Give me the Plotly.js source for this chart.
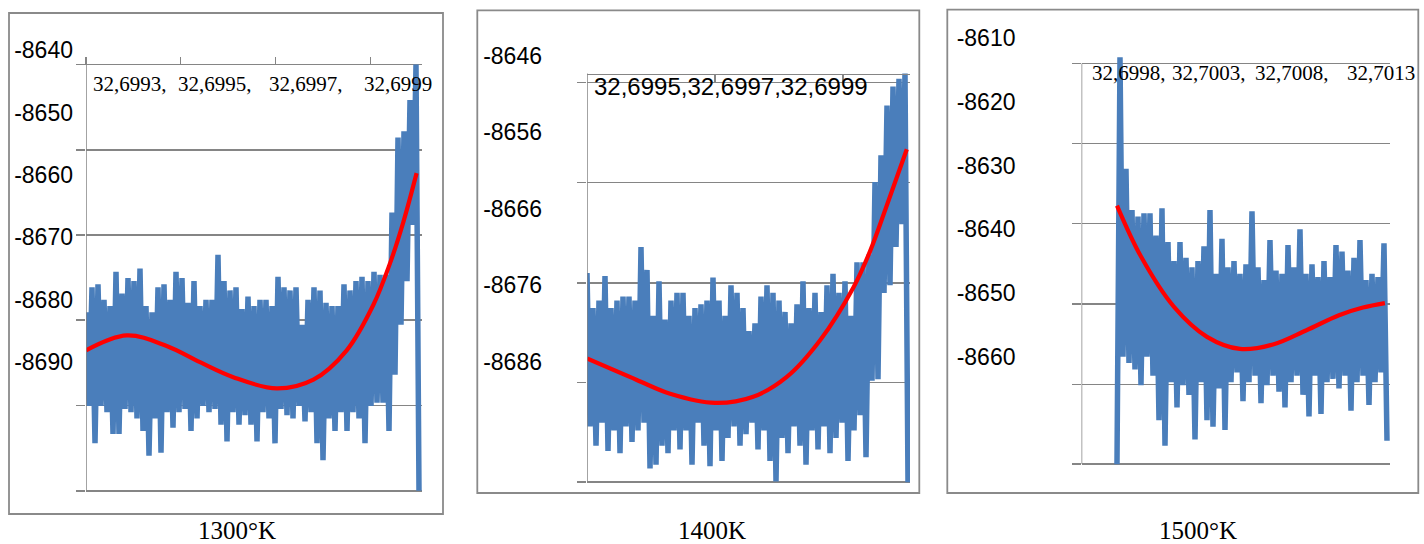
<!DOCTYPE html>
<html>
<head>
<meta charset="utf-8">
<script src="https://cdn.plot.ly/plotly-3.0.1.min.js"></script>
<style>html,body{margin:0;padding:0;background:#fff;}#chart{width:1424px;height:544px;}</style>
</head>
<body>
<div id="chart"></div>
<script>
// ---------- DATA ----------
const titles = ['1300°K', '1400K', '1500°K'];

// y tick labels
const yTickVals1 = [-8640, -8650, -8660, -8670, -8680, -8690];
const yTickText1 = ['-8640', '-8650', '-8660', '-8670', '-8680', '-8690'];
const yTickVals2 = [-8646, -8656, -8666, -8676, -8686];
const yTickText2 = ['-8646', '-8656', '-8666', '-8676', '-8686'];
const yTickVals3 = [-8610, -8620, -8630, -8640, -8650, -8660];
const yTickText3 = ['-8610', '-8620', '-8630', '-8640', '-8650', '-8660'];

// x labels (as printed at the top of each panel)
const xLabels1 = ['32,6993', '32,6995', '32,6997', '32,6999'];
const xLabels2 = ['32,6995', '32,6997', '32,6999'];
const xLabels3 = ['32,6998', '32,7003', '32,7008', '32,7013'];

// blue series (energy, one value per sample)
const energy1300 = [
 -8682,-8697,-8678,-8703,-8677.5,-8697,-8680,-8698,-8681,-8701.5,
 -8675.5,-8701.5,-8679,-8697.5,-8676.5,-8698,-8677,-8699,-8675,-8701,
 -8681,-8705,-8682,-8699,-8678,-8704.5,-8677.5,-8698,-8680,-8700.5,
 -8675.5,-8698,-8676.5,-8697.5,-8680.5,-8701,-8677,-8699,-8681,-8697,
 -8680,-8698,-8680,-8697.5,-8672.8,-8700,-8677,-8702.7,-8678.5,-8698,
 -8678,-8700,-8681.5,-8698.5,-8679.5,-8700,-8681,-8702.7,-8680,-8698,
 -8680,-8699,-8681,-8703,-8676.3,-8697.5,-8678,-8698.5,-8678.5,-8699,
 -8678,-8697,-8684,-8699.5,-8680,-8698,-8678,-8703,-8678.5,-8705.7,
 -8680.5,-8699,-8681,-8701,-8681,-8698,-8677.5,-8701,-8678.5,-8698,
 -8677,-8699,-8676.3,-8703,-8677,-8697,-8675.5,-8696.5,-8676,-8696.5,
 -8676,-8701,-8666,-8692,-8654,-8684,-8653,-8677,-8648,-8668,
 -8642.3,-8710.6
];
const energy1400 = [
 -8674.4,-8694.5,-8679,-8697,-8678,-8694,-8674.8,-8697.7,-8679,-8695,
 -8678,-8698,-8677.5,-8694.5,-8677.5,-8696.5,-8678,-8695,-8671,-8694,
 -8674,-8700,-8680,-8699.5,-8675.5,-8697,-8680.5,-8698,-8678,-8695,
 -8677,-8697.5,-8677,-8695,-8680,-8699.5,-8679,-8694,-8678.5,-8697,
 -8678,-8699.7,-8675,-8695,-8678,-8699,-8680,-8696,-8676,-8694.5,
 -8677,-8697,-8679,-8695.5,-8682,-8694,-8681,-8697.5,-8677.5,-8695,
 -8676,-8699,-8677,-8701.7,-8678,-8696,-8679.5,-8698,-8681,-8694.5,
 -8678.5,-8697,-8675.5,-8699.5,-8679,-8695,-8677,-8697.5,-8679.5,-8694.5,
 -8676,-8698,-8674.5,-8696,-8677,-8694,-8675.5,-8699,-8680,-8695,
 -8673,-8693,-8673,-8698.5,-8672,-8688.5,-8662.5,-8688.3,-8659,-8677,
 -8652.5,-8676,-8650,-8671,-8649,-8668,-8648.3,-8701.8
];
const energy1500 = [
 -8676.9,-8613,-8660,-8630.5,-8661,-8637,-8662,-8638,-8664.5,-8637.5,
 -8660,-8637.5,-8663,-8641,-8670,-8636.7,-8674,-8642,-8664,-8645,
 -8668,-8642,-8664.5,-8644.5,-8666,-8646,-8673,-8645,-8664,-8642.7,
 -8670,-8637,-8671,-8647,-8665,-8641.5,-8671.5,-8646,-8664,-8645,
 -8662.5,-8647,-8667,-8645.5,-8664,-8637.2,-8663,-8646,-8667.3,-8648,
 -8664.5,-8641.7,-8663,-8646.5,-8665.5,-8647,-8668,-8642.5,-8664,-8646,
 -8663,-8640,-8666,-8647,-8669.4,-8645.5,-8663,-8647.5,-8669,-8645,
 -8664,-8647.5,-8663.5,-8642.5,-8665,-8643.5,-8663,-8646.5,-8668.5,-8644.5,
 -8664,-8641.7,-8663,-8648,-8667.6,-8647,-8664,-8647.5,-8662.5,-8642.2,
 -8673.2
];

// red trend curves (sample position, value)
const trend1300X = [0, 13.6, 26.9, 38, 49.1, 63.6, 75.8, 86.9, 95.8, 101.3, 105.8, 110.2];
const trend1300Y = [-8688.1, -8685.7, -8687.4, -8690, -8692.4, -8694.2, -8692.8, -8688.1, -8680.8, -8674.2, -8667.5, -8659.7];
const trend1400X = [0, 16.6, 27.7, 42.7, 55.4, 66.6, 77.7, 88.8, 94.3, 99.9, 106.6];
const trend1400Y = [-8685.6, -8688.4, -8690.2, -8691.4, -8690.6, -8688, -8683.2, -8676.3, -8671.6, -8665.6, -8658.2];
const trend1500X = [0, 8, 19, 30, 41, 52, 63, 74, 82, 89.3];
const trend1500Y = [-8636.3, -8644.3, -8652.2, -8656.9, -8658.8, -8658.1, -8655.9, -8653.5, -8652.3, -8651.6];

// ---------- LAYOUT GEOMETRY (pixels) ----------
const W = 1424, H = 544;
const fx = px => px / W;
const fy = py => 1 - py / H;
const GRID = '#858585';
const BLUE = '#4a7ebb';
const RED = '#ff0000';

const panels = [
  { y: energy1300, tx: trend1300X, ty: trend1300Y, yVals: yTickVals1, yText: yTickText1,
    axisPx: 86, rightPx: 422, unit: 3, xStart: 0,
    labelPx: 50.2, k: 6.24, gridPx: [64.5, 150, 235, 320, 405.6, 491], topLinePx: 64.5,
    xTickPx: [86, 180.7, 275.7, 370.7], xTickDir: 'outside', showTopLine: false, standoff: 12,
    frame: [9, 13, 443, 514], titleX: 237 },
  { y: energy1400, tx: trend1400X, ty: trend1400Y, yVals: yTickVals2, yText: yTickText2,
    axisPx: 587, rightPx: 910, unit: 3, xStart: 0,
    labelPx: 56, k: 7.64, gridPx: [82.5, 182.7, 283, 382.6, 482], topLinePx: 73.5,
    xTickPx: [587, 715, 843], xTickDir: 'inside', showTopLine: true, standoff: 44,
    frame: [477.3, 10.4, 919.3, 493], titleX: 712 },
  { y: energy1500, tx: trend1500X, ty: trend1500Y, yVals: yTickVals3, yText: yTickText3,
    axisPx: 1081.5, rightPx: 1390, unit: 3, xStart: -11.83,
    labelPx: 38.1, k: 6.37, gridPx: [63.4, 143.3, 223.5, 304, 384.3, 464], topLinePx: 63.4,
    xTickPx: [], xTickDir: '', showTopLine: false, standoff: 65,
    frame: [947.3, 9.7, 1418.3, 493], titleX: 1197.5 }
];

const data = [];
const layout = {
  width: W, height: H,
  margin: { l: 0, r: 0, t: 0, b: 0, pad: 0 },
  paper_bgcolor: '#ffffff', plot_bgcolor: 'rgba(0,0,0,0)',
  showlegend: false, hovermode: false,
  shapes: [], annotations: []
};

panels.forEach((p, idx) => {
  const n = idx === 0 ? '' : String(idx + 1);
  const xa = 'x' + n, ya = 'y' + n;
  const vAt = px => p.yVals[0] - (px - p.labelPx) / p.k;
  const gridBottomPx = p.gridPx[p.gridPx.length - 1];
  const bottomPx = gridBottomPx + 3;
  const topPx = p.labelPx - 14;
  const xr = [p.xStart, p.xStart + (p.rightPx - p.axisPx) / p.unit];
  const xAt = px => p.xStart + (px - p.axisPx) / p.unit;

  data.push({ y: p.y, type: 'scatter', mode: 'lines', xaxis: xa, yaxis: ya,
    line: { color: BLUE, width: 5.5 } });
  data.push({ x: p.tx, y: p.ty, type: 'scatter', mode: 'lines', xaxis: xa, yaxis: ya,
    line: { color: RED, width: 4.2, shape: 'spline', smoothing: 1 } });

  layout['xaxis' + n] = {
    domain: [fx(p.axisPx), fx(p.rightPx)], range: xr,
    anchor: 'free', position: fy(p.topLinePx), side: 'top',
    showgrid: false, zeroline: false, showticklabels: false,
    showline: p.showTopLine, linecolor: GRID, linewidth: 1.5,
    tickmode: 'array', tickvals: p.xTickPx.map(xAt),
    ticks: p.xTickDir, ticklen: 8, tickcolor: GRID, tickwidth: 1.5,
    fixedrange: true
  };
  layout['yaxis' + n] = {
    domain: [fy(bottomPx), fy(topPx)],
    range: [vAt(bottomPx), vAt(topPx)],
    anchor: xa, side: 'left',
    showgrid: false, zeroline: false, showline: false,
    tickmode: 'array', tickvals: p.yVals, ticktext: p.yText,
    ticks: '', ticklabelstandoff: p.standoff,
    tickfont: { family: 'Liberation Sans, Arial, sans-serif', size: 23, color: '#000' },
    minor: { tickmode: 'array', tickvals: p.gridPx.map(vAt), showgrid: true,
      gridcolor: GRID, gridwidth: 1.5, ticks: 'outside', ticklen: 9,
      tickcolor: GRID, tickwidth: 1.5 },
    fixedrange: true
  };
  // vertical axis line (from top line to bottom gridline)
  layout.shapes.push({ type: 'line', xref: xa, yref: ya, x0: xr[0], x1: xr[0],
    y0: vAt(gridBottomPx), y1: vAt(p.topLinePx), line: { color: GRID, width: 1.5 } });
  // outer frame
  layout.shapes.push({ type: 'rect', xref: 'paper', yref: 'paper',
    x0: fx(p.frame[0]), x1: fx(p.frame[2]), y0: fy(p.frame[3]), y1: fy(p.frame[1]),
    line: { color: '#8a8a8a', width: 1.8 }, fillcolor: 'rgba(0,0,0,0)', layer: 'below' });
  // panel caption
  layout.annotations.push({ text: titles[idx], xref: 'paper', yref: 'paper',
    x: fx(p.titleX), y: fy(530), xanchor: 'center', yanchor: 'middle', showarrow: false,
    font: { family: 'Liberation Serif, Times New Roman, serif', size: 25, color: '#000' } });
});

// x labels printed inside the top of each panel
const serif = { family: 'Liberation Serif, Times New Roman, serif', size: 21, color: '#000' };
const x1Left = [90.7, 175.7, 266.7, 362.3];
xLabels1.forEach((t, i) => layout.annotations.push({
  text: t + (i < xLabels1.length - 1 ? ',' : ''), xref: 'paper', yref: 'paper',
  x: fx(x1Left[i]), y: fy(84), xanchor: 'left', yanchor: 'middle', showarrow: false,
  font: serif }));
layout.annotations.push({ text: xLabels2.join(','), xref: 'paper', yref: 'paper',
  x: fx(591.7), y: fy(86), xanchor: 'left', yanchor: 'middle', showarrow: false,
  font: { family: 'Liberation Sans, Arial, sans-serif', size: 24, color: '#000' } });
const x3Left = [1089.7, 1169.7, 1253, 1345];
xLabels3.forEach((t, i) => layout.annotations.push({
  text: t + (i < xLabels3.length - 1 ? ',' : ''), xref: 'paper', yref: 'paper',
  x: fx(x3Left[i]), y: fy(73.3), xanchor: 'left', yanchor: 'middle', showarrow: false,
  font: serif }));

Plotly.newPlot('chart', data, layout, { staticPlot: true, displayModeBar: false });
</script>
</body>
</html>
